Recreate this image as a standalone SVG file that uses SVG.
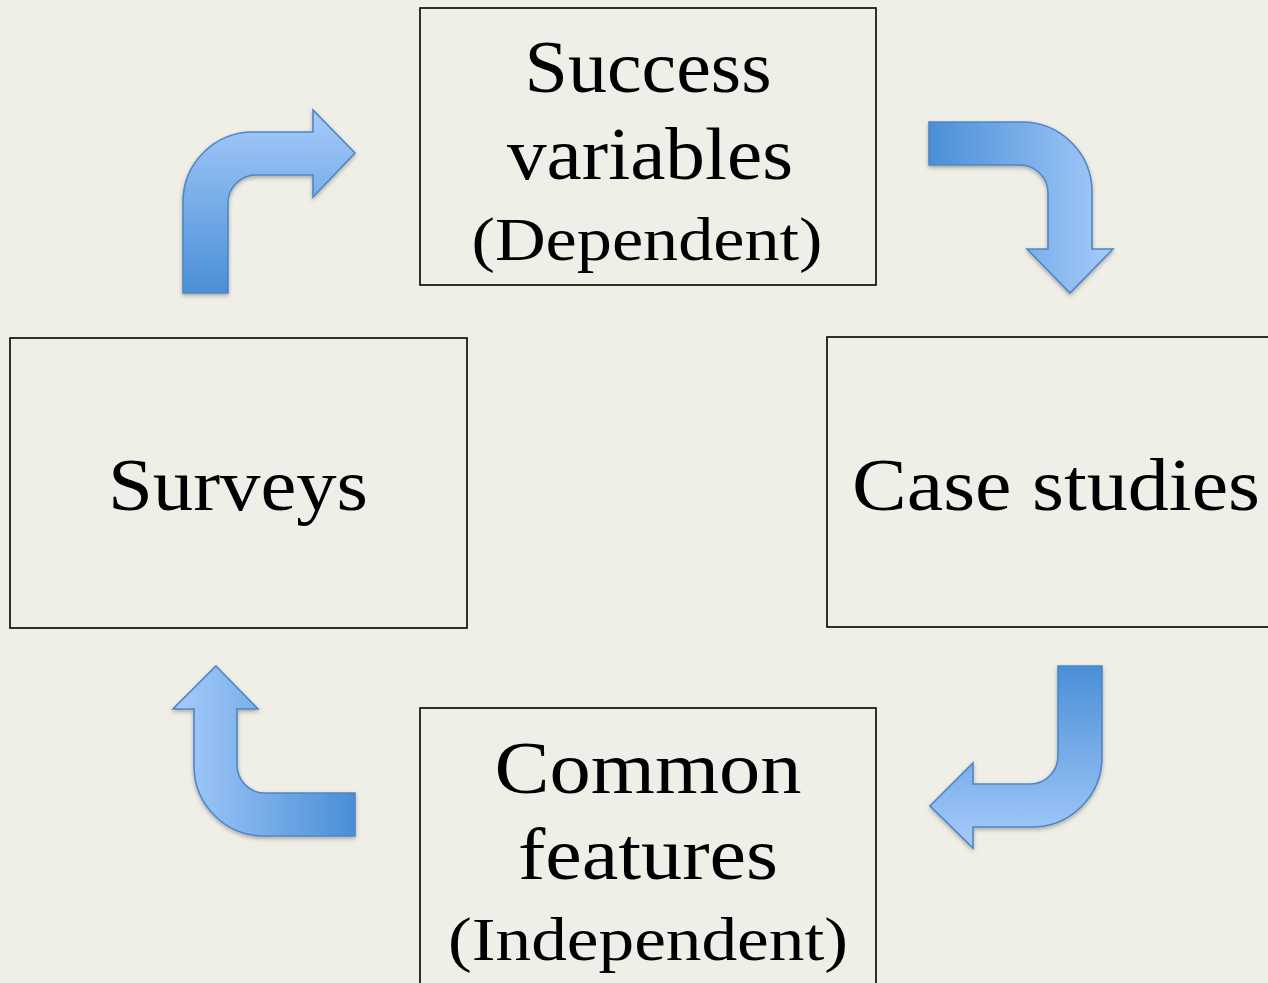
<svg xmlns="http://www.w3.org/2000/svg" width="1268" height="983" viewBox="0 0 1268 983">
<style>
.box{fill:none;stroke:#000;stroke-width:1.6}
.t{font-family:"Liberation Serif","Times New Roman",serif;fill:#000;text-anchor:middle}
.big{font-size:75px}
.sub{font-size:62px}
.arr{stroke:#4f86c6;stroke-width:1.6;filter:url(#sh)}
</style>
<defs>
<linearGradient id="gUp" x1="0" y1="1" x2="0" y2="0"><stop offset="0" stop-color="#4a8fd6"/><stop offset="1" stop-color="#a6cbfb"/></linearGradient>
<linearGradient id="gDown" x1="0" y1="0" x2="0" y2="1"><stop offset="0" stop-color="#4a8fd6"/><stop offset="1" stop-color="#a6cbfb"/></linearGradient>
<linearGradient id="gRight" x1="0" y1="0" x2="1" y2="0"><stop offset="0" stop-color="#4a8fd6"/><stop offset="1" stop-color="#a6cbfb"/></linearGradient>
<linearGradient id="gLeft" x1="1" y1="0" x2="0" y2="0"><stop offset="0" stop-color="#4a8fd6"/><stop offset="1" stop-color="#a6cbfb"/></linearGradient>
<filter id="sh" x="-20%" y="-20%" width="140%" height="140%"><feDropShadow dx="0" dy="2" stdDeviation="2" flood-color="#000" flood-opacity="0.3"/></filter>
</defs>
<rect width="1268" height="983" fill="#f0efe7"/>
<g id="connectors">
<path class="arr" fill="url(#gUp)" d="M183,293 L183,202 A70,70 0 0 1 253,132 L313,132 L313,110 L355,153 L313,197 L313,175 L256,175 A28,28 0 0 0 228,203 L228,293 Z"/>
<path class="arr" fill="url(#gRight)" d="M929,122 L1022,122 A70,70 0 0 1 1092,192 L1092,249 L1113,249 L1070,293 L1027,249 L1048,249 L1048,193 A28,28 0 0 0 1020,165 L929,165 Z"/>
<path class="arr" fill="url(#gDown)" d="M1058,666 L1102,666 L1102,757 A70,70 0 0 1 1032,827 L973,827 L973,848 L930,806 L973,763 L973,784 L1030,784 A28,28 0 0 0 1058,756 Z"/>
<path class="arr" fill="url(#gLeft)" d="M216,666 L258,709 L237,709 L237,765 A28,28 0 0 0 265,793 L355,793 L355,836 L264,836 A70,70 0 0 1 194,766 L194,709 L173,709 Z"/>
</g>
<g id="success">
<rect class="box" x="420" y="8" width="456" height="277"/>
<text class="t big" x="648" y="92" textLength="247" lengthAdjust="spacingAndGlyphs">Success</text>
<text class="t big" x="650" y="179" textLength="286" lengthAdjust="spacingAndGlyphs">variables</text>
<text class="t sub" x="647" y="260" textLength="351" lengthAdjust="spacingAndGlyphs">(Dependent)</text>
</g>
<g id="case">
<rect class="box" x="827" y="337" width="445" height="290"/>
<text class="t big" x="1056" y="510" textLength="408" lengthAdjust="spacingAndGlyphs">Case studies</text>
</g>
<g id="surveys">
<rect class="box" x="10" y="338" width="457" height="290"/>
<text class="t big" x="238" y="510" textLength="260" lengthAdjust="spacingAndGlyphs">Surveys</text>
</g>
<g id="common">
<rect class="box" x="420" y="708" width="456" height="290"/>
<text class="t big" x="648" y="793" textLength="307" lengthAdjust="spacingAndGlyphs">Common</text>
<text class="t big" x="648" y="879" textLength="260" lengthAdjust="spacingAndGlyphs">features</text>
<text class="t sub" x="648" y="960" textLength="400" lengthAdjust="spacingAndGlyphs">(Independent)</text>
</g>
</svg>
